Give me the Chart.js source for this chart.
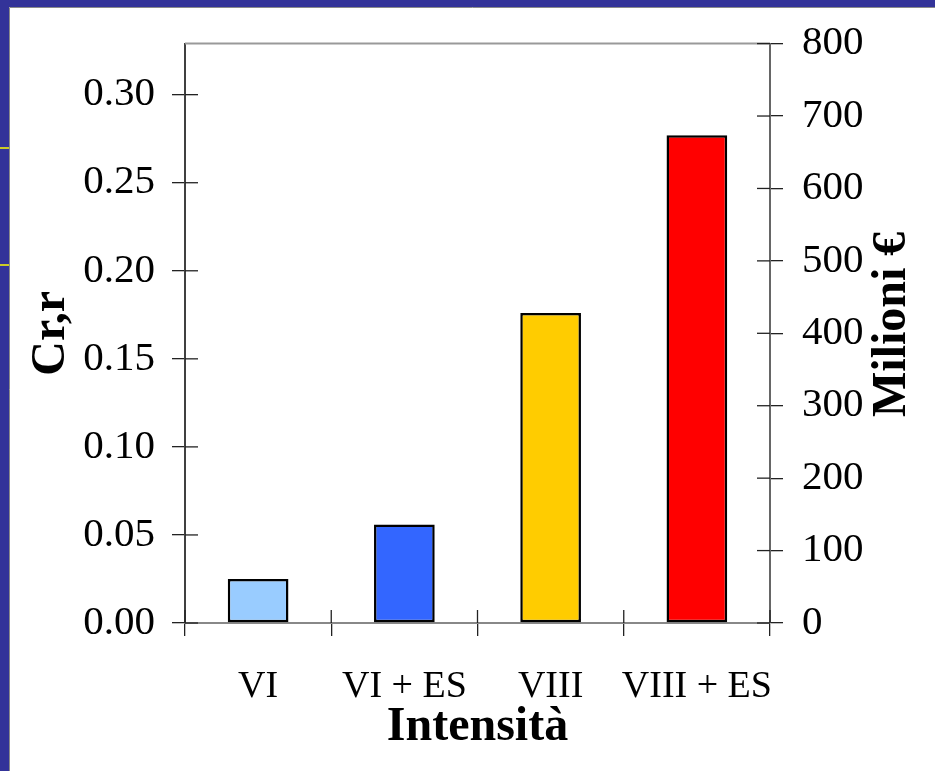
<!DOCTYPE html>
<html>
<head>
<meta charset="utf-8">
<script src="https://cdn.jsdelivr.net/npm/chart.js@4/dist/chart.umd.min.js"></script>
<style>
  html, body { margin: 0; padding: 0; background: #333399; }
  #wrap { width: 935px; height: 771px; position: relative; }
</style>
</head>
<body>
<div id="wrap"><canvas id="c" width="935" height="771"></canvas></div>
<script>
// Intensity scenarios and the resulting Cr,r index
const categories = ['VI', 'VI + ES', 'VIII', 'VIII + ES'];
const crValues = [0.025, 0.056, 0.176, 0.277];
const barColors = ['#99CCFF', '#3366FF', '#FFCC00', '#FF0000'];

// Axis ranges: Cr,r on the left, millions of euro on the right
const leftMax = 0.329;
const leftStep = 0.05;
const rightMax = 800;
const rightStep = 100;
const rightTitle = 'Milioni €';

const SERIF = '"Liberation Serif", "Times New Roman", serif';

// Slide background, white panel, the frame, crossing tick marks and the right title
const decor = {
  id: 'decor',
  beforeDraw(chart) {
    const ctx = chart.ctx;
    ctx.save();
    ctx.fillStyle = '#333399';
    ctx.fillRect(0, 0, chart.width, chart.height);
    ctx.fillStyle = '#ffffff';
    ctx.fillRect(9, 7, chart.width - 9, chart.height - 7);
    ctx.strokeStyle = '#8a8a8a';
    ctx.lineWidth = 1;
    ctx.beginPath();
    ctx.moveTo(9.5, chart.height);
    ctx.lineTo(9.5, 7.5);
    ctx.lineTo(chart.width, 7.5);
    ctx.stroke();
    ctx.strokeStyle = '#ffff00';
    ctx.lineWidth = 1.5;
    [148, 265].forEach(y => {
      ctx.beginPath();
      ctx.moveTo(0, y);
      ctx.lineTo(9, y);
      ctx.stroke();
    });
    ctx.restore();
  },
  afterDraw(chart) {
    const ctx = chart.ctx;
    const a = chart.chartArea;
    const tl = 13;
    ctx.save();
    // top edge of the frame
    ctx.strokeStyle = '#999999';
    ctx.lineWidth = 2;
    ctx.beginPath();
    ctx.moveTo(a.left, a.top);
    ctx.lineTo(a.right, a.top);
    ctx.stroke();
    // inner halves of the tick marks
    ctx.strokeStyle = '#222222';
    ctx.lineWidth = 1.3;
    const y = chart.scales.y, y1 = chart.scales.y1, x = chart.scales.x;
    y.ticks.forEach(t => {
      const p = y.getPixelForValue(t.value);
      ctx.beginPath(); ctx.moveTo(a.left, p); ctx.lineTo(a.left + tl, p); ctx.stroke();
    });
    y1.ticks.forEach(t => {
      const p = y1.getPixelForValue(t.value);
      ctx.beginPath(); ctx.moveTo(a.right - tl, p); ctx.lineTo(a.right, p); ctx.stroke();
    });
    const half = (x.getPixelForValue(1) - x.getPixelForValue(0)) / 2;
    for (let i = 0; i <= categories.length; i++) {
      const p = x.getPixelForValue(i) - half;
      ctx.beginPath(); ctx.moveTo(p, a.bottom - tl); ctx.lineTo(p, a.bottom); ctx.stroke();
    }
    // right axis title, reading bottom to top
    ctx.translate(y1.right - 42, (a.top + a.bottom) / 2 - 9);
    ctx.rotate(-Math.PI / 2);
    ctx.fillStyle = '#000';
    ctx.font = 'bold 48px ' + SERIF;
    ctx.textAlign = 'center';
    ctx.textBaseline = 'middle';
    ctx.fillText(rightTitle, 0, 0);
    ctx.restore();
  }
};

new Chart(document.getElementById('c'), {
  type: 'bar',
  data: {
    labels: categories,
    datasets: [{
      data: crValues,
      backgroundColor: barColors,
      borderColor: '#000000',
      borderWidth: 2.5,
      borderSkipped: false,
      categoryPercentage: 1,
      barPercentage: 0.415,
      yAxisID: 'y'
    }]
  },
  options: {
    responsive: false,
    animation: false,
    devicePixelRatio: 1,
    layout: { padding: { top: 43, left: 0, right: 0, bottom: 0 } },
    plugins: { legend: { display: false }, tooltip: { enabled: false } },
    scales: {
      x: {
        afterFit(s) { s.height = 148; },
        grid: { display: true, offset: true, drawOnChartArea: false, tickLength: 13, color: '#222222', lineWidth: 1.3 },
        border: { display: true, color: '#888888', width: 2 },
        ticks: { color: '#000', padding: 28, autoSkip: false, maxRotation: 0, minRotation: 0,
                 font: { family: SERIF, size: 38 } },
        title: { display: true, text: 'Intensità', color: '#000', padding: { top: 0, bottom: 15 },
                 font: { family: SERIF, size: 48, weight: 'bold' } }
      },
      y: {
        position: 'left',
        min: 0, max: leftMax,
        afterFit(s) { s.width = 185; },
        grid: { drawOnChartArea: false, tickLength: 13, color: '#222222', lineWidth: 1.3 },
        border: { display: true, color: '#404040', width: 2 },
        ticks: { stepSize: leftStep, includeBounds: false, color: '#000', padding: 17,
                 font: { family: SERIF, size: 41 },
                 callback: v => Number(v).toFixed(2) },
        title: { display: true, text: 'Cr,r', color: '#000', padding: { top: 23 },
                 font: { family: SERIF, size: 48, weight: 'bold' } }
      },
      y1: {
        position: 'right',
        min: 0, max: rightMax,
        afterFit(s) { s.width = 165; },
        grid: { drawOnChartArea: false, tickLength: 13, color: '#222222', lineWidth: 1.3 },
        border: { display: true, color: '#666666', width: 2 },
        ticks: { stepSize: rightStep, color: '#000', padding: 19,
                 font: { family: SERIF, size: 41 } },
        title: { display: false }
      }
    }
  },
  plugins: [decor]
});
</script>
</body>
</html>
